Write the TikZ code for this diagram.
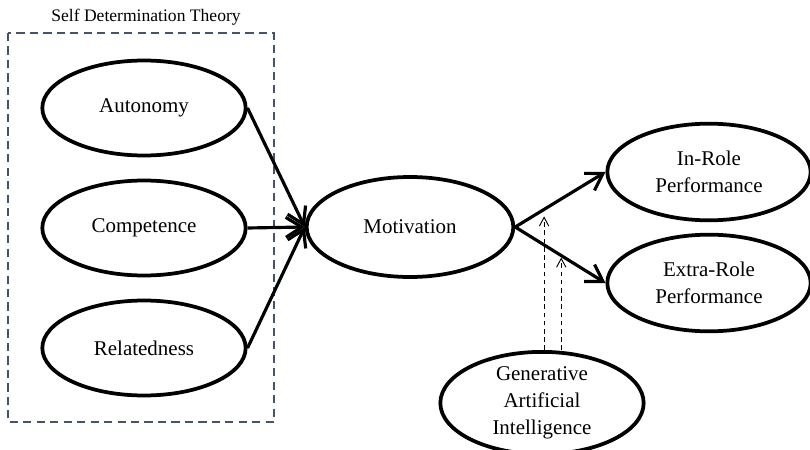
\documentclass[tikz,border=0pt]{standalone}
\usepackage{fontspec}
\setmainfont{Liberation Serif}
\usetikzlibrary{calc}
\usetikzlibrary{arrows.meta}
\usetikzlibrary{shapes.geometric}
\definecolor{sdtblue}{RGB}{68,84,106}

\begin{document}
\begin{tikzpicture} [x=0.03cm, y=-0.03cm,
  construct/.style={ellipse, draw, line width=3.2pt, fill=white, inner sep=0,
    minimum width=6.1cm, minimum height=2.85cm, align=center,
    font=\fontsize{17.9}{23}\selectfont},
  path/.style={line width=2.7pt, -{Straight Barb[length=4.8mm, width=6mm, line width=2.7pt]}},
  moderate/.style={line width=0.8pt, dash pattern=on 4pt off 3pt,
    -{Straight Barb[length=2.6mm, width=2.8mm, line width=0.8pt]}}]
\useasboundingbox (0,0) rectangle (810,450);
% self determination theory block
\draw[sdtblue, line width=1.6pt, dash pattern=on 7pt off 4.5pt] (8,33) rectangle (274,422);
\node (sdt) at (146,17) {\fontsize{15}{18}\selectfont Self Determination Theory};
\node[construct] (auto) at (144,108) {Autonomy};
\node[construct] (comp) at (144,228) {Competence};
\node[construct] (rel)  at (144,348) {Relatedness};
% mediator and outcomes
\node[construct, minimum width=6.2cm, minimum height=3.0cm] (mot) at (410,227) {Motivation};
\node[construct, minimum height=2.9cm] (inrole) at (709,172) {In-Role\\Performance};
\node[construct, minimum height=2.9cm] (extra)  at (709,283) {Extra-Role\\Performance};
\node[construct, minimum height=2.95cm] (gai) at (542,403) {Generative\\Artificial\\Intelligence};
% paths
\draw[path] (auto.east) -- (mot.west);
\draw[path] (comp.east) -- (mot.west);
\draw[path] (rel.east)  -- (mot.west);
\draw[path] (mot.east) -- (inrole.west);
\draw[path] (mot.east) -- (extra.west);
% moderation by GAI
\coordinate (h1) at ($(mot.east)!0.32!(inrole.west)+(0,7)$);
\coordinate (h2) at ($(mot.east)!0.51!(extra.west)+(0,2)$);
\draw[moderate] (gai.north -| h1) -- (h1);
\draw[moderate] (gai.north -| h2) -- (h2);
\end{tikzpicture}
\end{document}
